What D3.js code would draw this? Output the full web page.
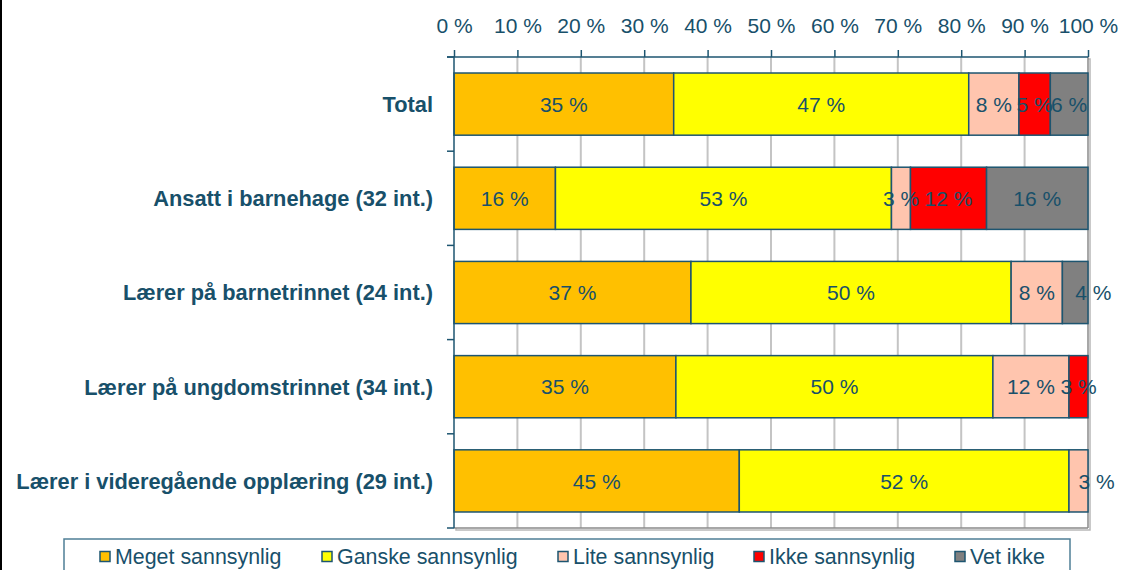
<!DOCTYPE html>
<html>
<head>
<meta charset="utf-8">
<script src="https://cdn.jsdelivr.net/npm/d3@7/dist/d3.min.js"></script>
<style>
  html, body { margin: 0; padding: 0; background: #fff; }
  svg { display: block; }
  text { font-family: "Liberation Sans", Arial, sans-serif; }
</style>
</head>
<body>
<svg id="chart" width="1125" height="570"></svg>
<script>
// ---- data ----
const categories = [
  "Total",
  "Ansatt i barnehage (32 int.)",
  "Lærer på barnetrinnet (24 int.)",
  "Lærer på ungdomstrinnet (34 int.)",
  "Lærer i videregående opplæring (29 int.)"
];
const seriesNames = ["Meget sannsynlig", "Ganske sannsynlig", "Lite sannsynlig", "Ikke sannsynlig", "Vet ikke"];
const megetSannsynlig  = [35, 16, 37, 35, 45];
const ganskeSannsynlig = [47, 53, 50, 50, 52];
const liteSannsynlig   = [8, 3, 8, 12, 3];
const ikkeSannsynlig   = [5, 12, 0, 3, 0];
const vetIkke          = [6, 16, 4, 0, 0];
const tickValues = [0, 10, 20, 30, 40, 50, 60, 70, 80, 90, 100];
const tickLabels = ["0 %", "10 %", "20 %", "30 %", "40 %", "50 %", "60 %", "70 %", "80 %", "90 %", "100 %"];

(function () {
const seriesValues = [megetSannsynlig, ganskeSannsynlig, liteSannsynlig, ikkeSannsynlig, vetIkke];
const colors = ["#FFC000", "#FFFF00", "#FFC5AE", "#FF0000", "#808080"];
const textColor = "#18506A";
const strokeColor = "#1D5570";

// labels that Excel pushed to the right of their segment
const shiftedLabels = new Set(["2|4", "4|2"]);

// ---- layout ----
const svg = d3.select("#chart");
const pL = 454, pR = 1088, pT = 57, pB = 528;

const x = d3.scaleLinear().domain([0, 100]).range([pL, pR]);
const y = d3.scaleBand().domain(categories).range([pT, pB]).paddingInner(0.34).paddingOuter(0.17);

// black strip at left edge
svg.append("rect").attr("x", 0).attr("y", 0).attr("width", 2).attr("height", 570).attr("fill", "#000");

// plot shadow
svg.append("rect").attr("x", pL + 2).attr("y", pT + 2).attr("width", pR - pL).attr("height", pB - pT)
  .attr("fill", "none").attr("stroke", "#b8b8b8").attr("stroke-width", 1.5);
svg.append("rect").attr("x", pL).attr("y", pT).attr("width", pR - pL).attr("height", pB - pT)
  .attr("fill", "#fff");

// gridlines
svg.append("g").selectAll("line").data(tickValues.slice(1, -1)).join("line")
  .attr("x1", d => x(d)).attr("x2", d => x(d)).attr("y1", pT).attr("y2", pB)
  .attr("stroke", "#c4c4c4").attr("stroke-width", 2);
// right & bottom border
svg.append("line").attr("x1", pR).attr("x2", pR).attr("y1", pT).attr("y2", pB)
  .attr("stroke", "#8a8a8a").attr("stroke-width", 1.5);
svg.append("line").attr("x1", pL).attr("x2", pR).attr("y1", pB).attr("y2", pB)
  .attr("stroke", "#8a8a8a").attr("stroke-width", 1.5);

// stacked data (100% stacked: normalize by row sum)
const rows = categories.map((c, i) => {
  const vals = seriesValues.map(s => s[i]);
  const sum = d3.sum(vals);
  let acc = 0;
  return vals.map((v, j) => {
    const x0 = acc / sum * 100;
    acc += v;
    const x1 = acc / sum * 100;
    return { cat: c, row: i, series: j, value: v, x0, x1 };
  });
});
const segs = rows.flat().filter(d => d.value > 0);

svg.append("g").selectAll("rect").data(segs).join("rect")
  .attr("x", d => x(d.x0)).attr("width", d => x(d.x1) - x(d.x0))
  .attr("y", d => y(d.cat)).attr("height", y.bandwidth())
  .attr("fill", d => colors[d.series])
  .attr("stroke", strokeColor).attr("stroke-width", 1.5);

svg.append("g").selectAll("text").data(segs).join("text")
  .attr("x", d => x((d.x0 + d.x1) / 2))
  .attr("y", d => y(d.cat) + y.bandwidth() / 2)
  .attr("dy", "0.37em")
  .attr("text-anchor", d => shiftedLabels.has(d.row + "|" + d.series) ? "start" : "middle")
  .attr("font-size", 21).attr("fill", textColor)
  .text(d => d.value + " %");

// top axis
const xAxis = d3.axisTop(x).tickValues(tickValues).tickFormat((d, i) => tickLabels[i]).tickSize(7).tickPadding(17);
const gx = svg.append("g").attr("transform", `translate(0,${pT})`).call(xAxis);
gx.select(".domain").attr("stroke", strokeColor).attr("stroke-width", 1.5).attr("d", `M${pL - 7},0H${pR}`);
gx.selectAll(".tick line").attr("stroke", strokeColor).attr("stroke-width", 1.5);
gx.selectAll(".tick text").attr("font-size", 21).attr("fill", textColor).attr("font-family", "Liberation Sans, Arial, sans-serif");

// left axis line and boundary ticks
svg.append("line").attr("x1", pL).attr("x2", pL).attr("y1", pT).attr("y2", pB)
  .attr("stroke", strokeColor).attr("stroke-width", 1.5);
const boundaries = d3.range(categories.length + 1).map(i => pT + i * y.step());
svg.append("g").selectAll("line").data(boundaries).join("line")
  .attr("x1", pL - 7).attr("x2", pL).attr("y1", d => d).attr("y2", d => d)
  .attr("stroke", strokeColor).attr("stroke-width", 1.5);

// category labels
svg.append("g").selectAll("text").data(categories).join("text")
  .attr("x", 433).attr("y", d => y(d) + y.bandwidth() / 2).attr("dy", "0.36em")
  .attr("text-anchor", "end").attr("font-weight", "bold").attr("font-size", 21.8)
  .attr("fill", textColor).text(d => d);

// legend
svg.append("rect").attr("x", 64).attr("y", 539).attr("width", 1006).attr("height", 50)
  .attr("fill", "#fff").attr("stroke", "#4f7f96").attr("stroke-width", 1.5);
const legendX = [100, 322, 558, 754, 955];
const lg = svg.append("g").selectAll("g").data(seriesNames).join("g")
  .attr("transform", (d, i) => `translate(${legendX[i]},556.5)`);
lg.append("rect").attr("x", 0).attr("y", -5).attr("width", 10).attr("height", 10)
  .attr("fill", (d, i) => colors[i]).attr("stroke", strokeColor).attr("stroke-width", 1.5);
lg.append("text").attr("x", 15).attr("y", 0).attr("dy", "0.36em")
  .attr("font-size", 21.4).attr("fill", textColor).text(d => d);
})();
</script>
</body>
</html>
